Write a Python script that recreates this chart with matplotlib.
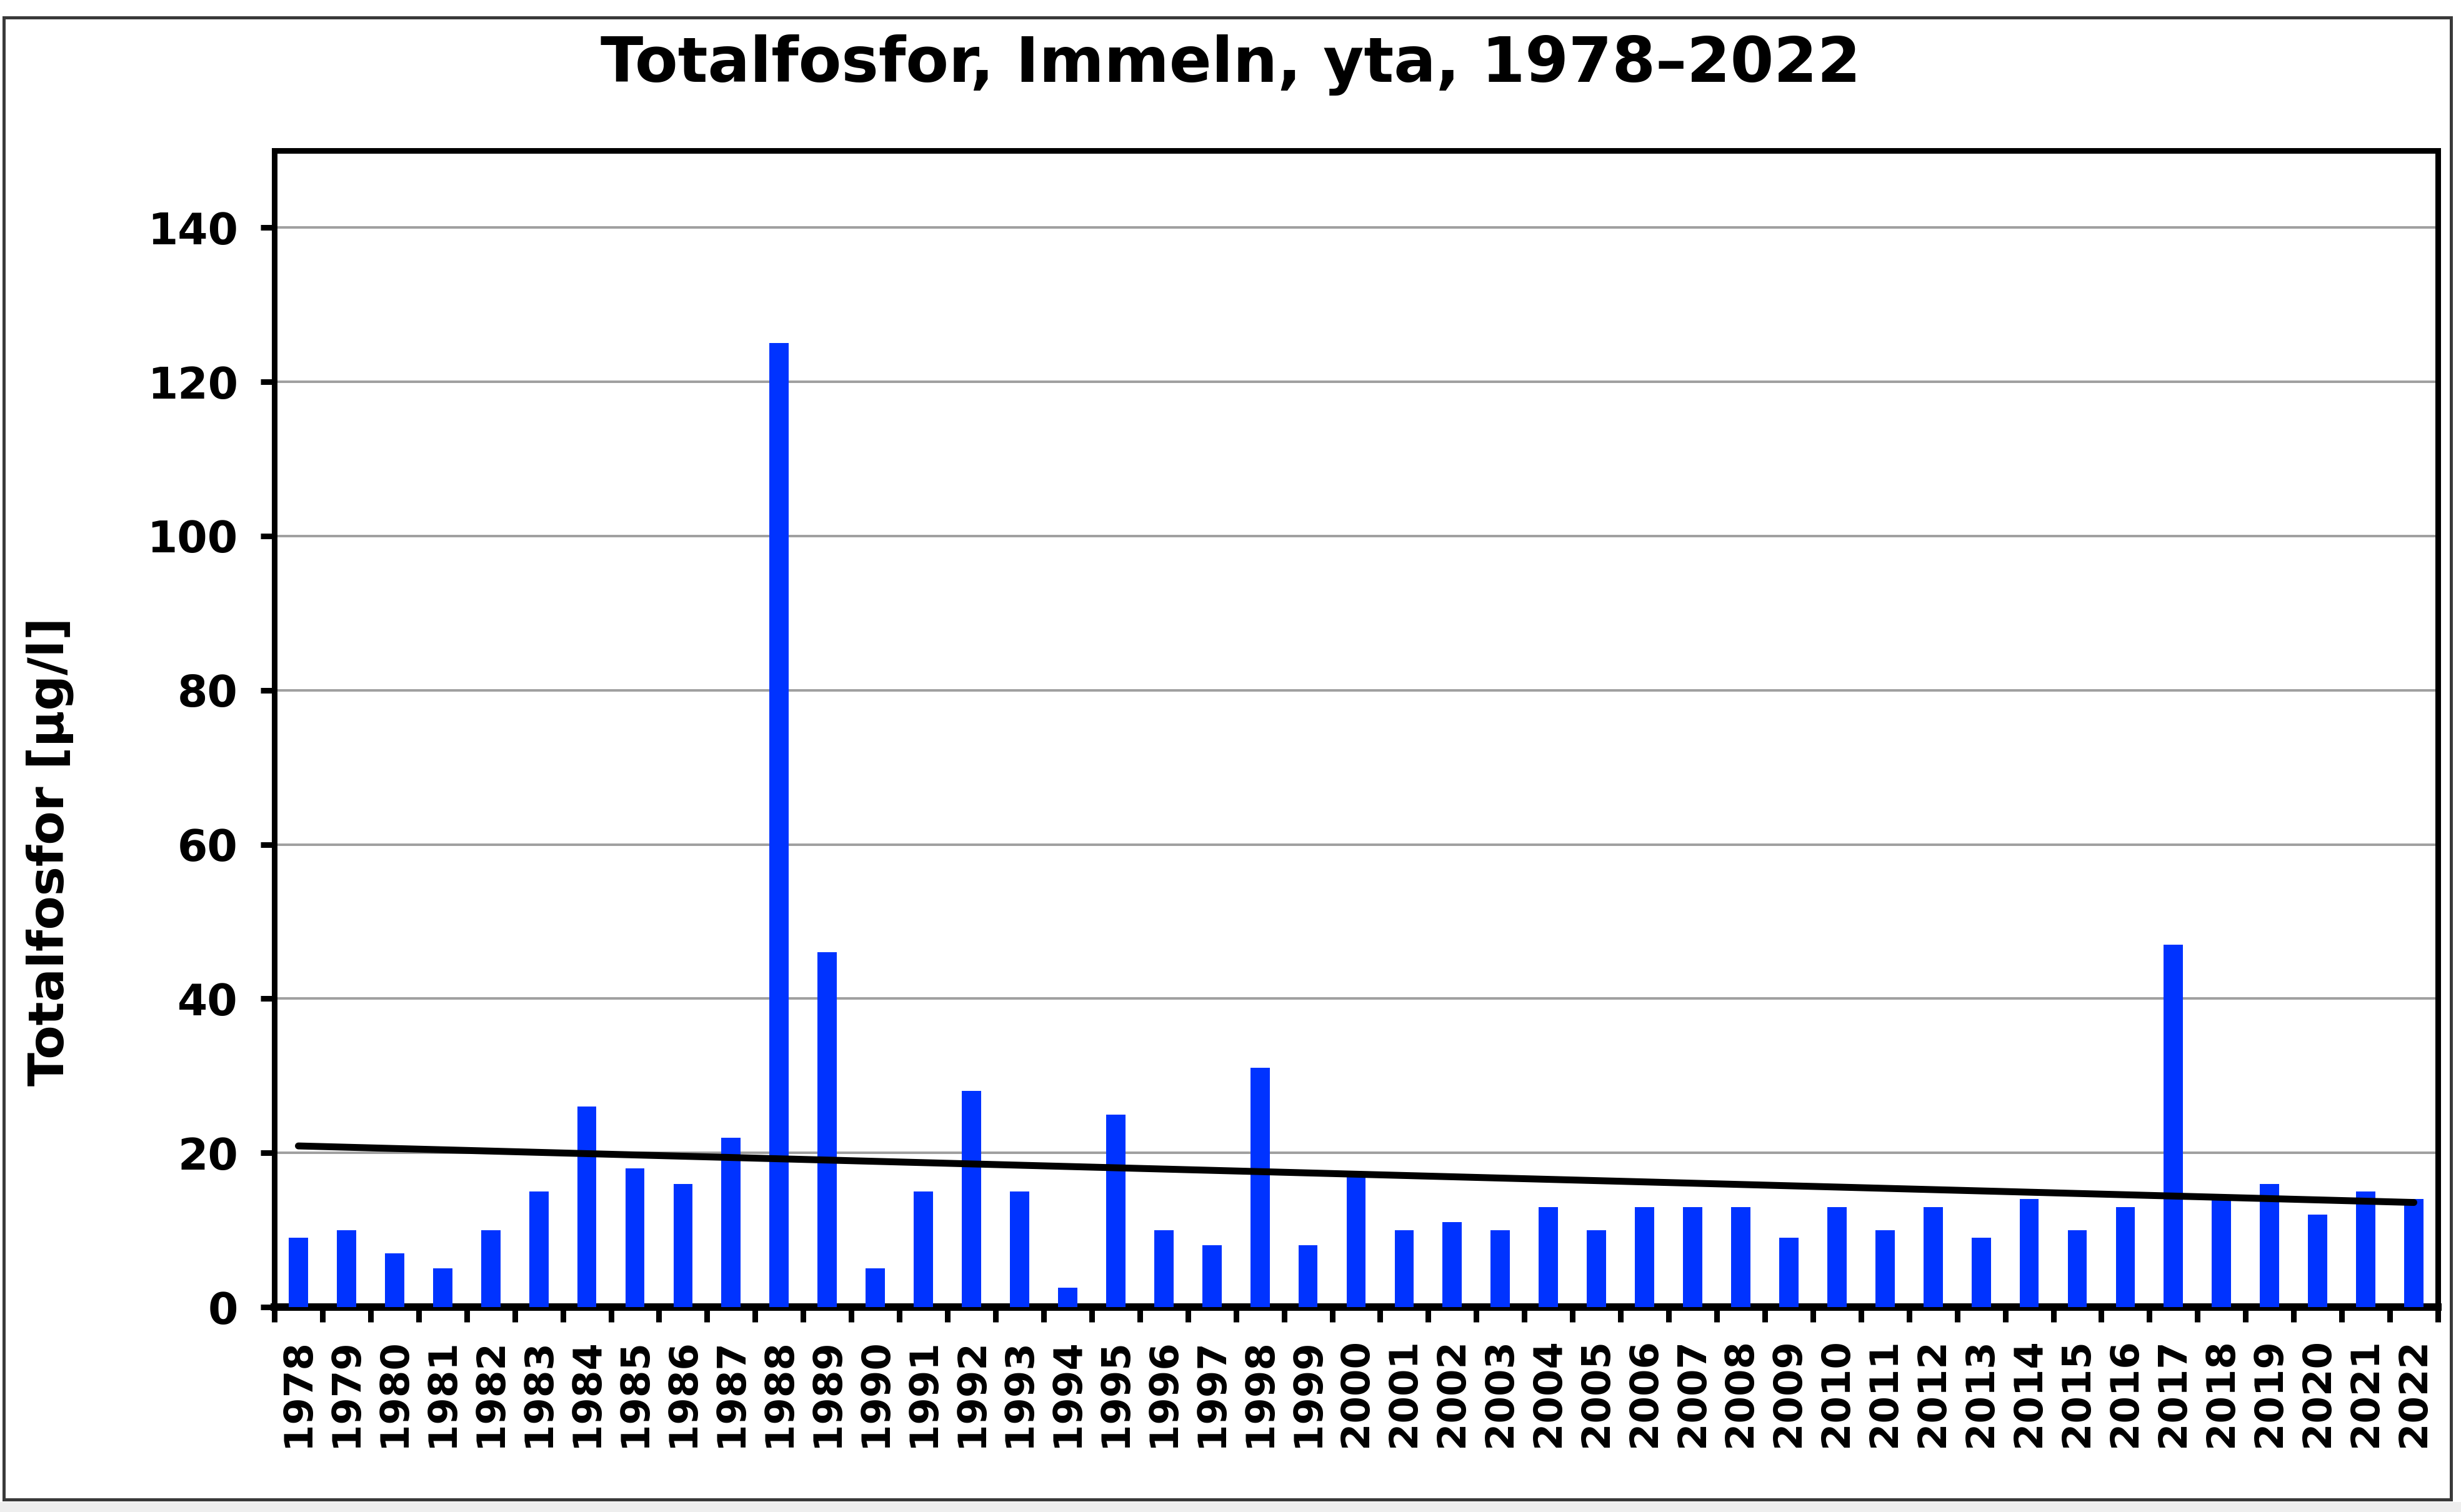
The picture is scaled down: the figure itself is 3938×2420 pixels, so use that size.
import numpy as np
import matplotlib
matplotlib.use("Agg")
import matplotlib.pyplot as plt
from matplotlib.patches import Rectangle
from matplotlib.ticker import FixedLocator, NullFormatter

# data
years = list(range(1978, 2023))
tot_p = [9, 10, 7, 5, 10, 15, 26, 18, 16, 22,
         125, 46, 5, 15, 28, 15, 2.5, 25, 10, 8,
         31, 8, 17, 10, 11, 10, 13, 10, 13, 13,
         13, 9, 13, 10, 13, 9, 14, 10, 13, 47,
         14, 16, 12, 15, 14]
y_ticks = [0, 20, 40, 60, 80, 100, 120, 140]

title = "Totalfosfor, Immeln, yta, 1978\u20132022"
ylabel = "Totalfosfor [\u00b5g/l]"

bar_color = "#0033ff"
grid_color = "#a0a0a0"

plt.rcParams.update({
    "font.family": "DejaVu Sans",
    "font.weight": "bold",
})

W, H, DPI = 3938, 2420, 100
fig = plt.figure(figsize=(W / DPI, H / DPI), dpi=DPI)
fig.patch.set_facecolor("white")

# outer frame like the exported chart area
px = lambda v: v / DPI * 72
fig.patches.append(Rectangle((0, 0), 1, 1 - 2404 / H, transform=fig.transFigure,
                             facecolor="#eeeeee", edgecolor="none", zorder=0))
fig.patches.append(Rectangle((6 / W, 1 - 2400 / H), (3922 - 6) / W, (2400 - 28) / H,
                             transform=fig.transFigure, facecolor="white",
                             edgecolor="#3a3a3a", linewidth=px(5), zorder=1))

left, right, top, bottom = 439, 3901, 241, 2092
ax = fig.add_axes([left / W, 1 - bottom / H, (right - left) / W, (bottom - top) / H])
ax.set_zorder(2)

x = np.arange(len(years))
ax.bar(x, tot_p, width=0.4, color=bar_color, zorder=3)

# linear trend, as in the spreadsheet chart
k, m = np.polyfit(x, tot_p, 1)
ax.plot([x[0], x[-1]], [k * x[0] + m, k * x[-1] + m], color="black",
        linewidth=px(11), solid_capstyle="round", zorder=4)

ax.set_xlim(-0.5, len(years) - 0.5)
ax.set_ylim(0, 150)
ax.set_yticks(y_ticks)
ax.yaxis.grid(True, color=grid_color, linewidth=px(4))
ax.set_axisbelow(True)

ax.set_xticks(x)
ax.set_xticklabels([str(y) for y in years], rotation=90, fontsize=45, fontweight="bold")
ax.xaxis.set_minor_locator(FixedLocator(np.arange(-0.5, len(years), 1.0)))
ax.xaxis.set_minor_formatter(NullFormatter())
ax.tick_params(axis="x", which="major", length=0, pad=36)
ax.tick_params(axis="x", which="minor", length=px(24), width=px(9), direction="out")
ax.tick_params(axis="y", length=px(22), width=px(9), labelsize=50, pad=26)
for lab in ax.get_yticklabels():
    lab.set_fontweight("bold")

for s in ["left", "top", "right"]:
    ax.spines[s].set_linewidth(px(9))
ax.spines["bottom"].set_linewidth(px(12))

fig.text(1969 / W, 1 - 104 / H, title, ha="center", va="center",
         fontsize=72, fontweight="bold", zorder=3)
fig.text(80 / W, 1 - 1363 / H, ylabel, ha="center", va="center", rotation=90,
         fontsize=57, fontweight="bold", zorder=3)

fig.savefig("out.png", dpi=DPI, facecolor=fig.get_facecolor())
